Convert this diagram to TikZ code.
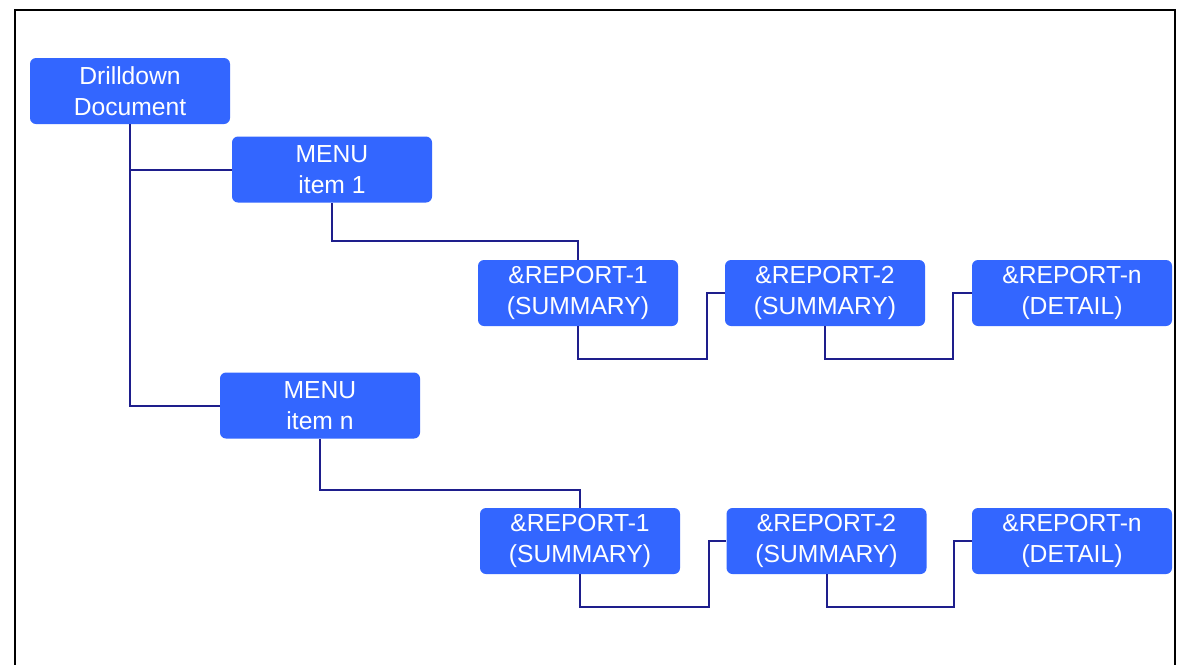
\documentclass[tikz,border=0pt]{standalone}
\usepackage{fontspec}
\setmainfont{Liberation Sans}
\definecolor{boxblue}{RGB}{51,102,255}
\definecolor{linenavy}{RGB}{30,30,140}
\begin{document}
\begin{tikzpicture}[x=0.75pt,y=-0.75pt,
  box/.style={fill=boxblue,text=white,rounded corners=4.5pt,minimum width=150pt,minimum height=49.5pt,inner sep=0pt,align=center,font=\fontsize{18.5pt}{23.25pt}\selectfont},
  conn/.style={draw=linenavy,line width=1.5pt}]
\useasboundingbox (0,0) rectangle (1178,664);
\fill[white] (0,0) rectangle (1178,664);
\draw[line width=2.2pt,black] (15,670) -- (15,10) -- (1175,10) -- (1175,670);

\node[box] (dd) at (130,91) {Drilldown\\Document};
\node[box] (m1) at (332,169.5) {MENU\\item 1};
\node[box] (mn) at (320,405.5) {MENU\\item n};
\node[box] (r1a) at (578,293) {\&REPORT-1\\(SUMMARY)};
\node[box] (r2a) at (825,293) {\&REPORT-2\\(SUMMARY)};
\node[box] (rna) at (1072,293) {\&REPORT-n\\(DETAIL)};
\node[box] (r1b) at (580,541) {\&REPORT-1\\(SUMMARY)};
\node[box] (r2b) at (826.5,541) {\&REPORT-2\\(SUMMARY)};
\node[box] (rnb) at (1072,541) {\&REPORT-n\\(DETAIL)};

\coordinate (e1) at (0,241);
\coordinate (e2) at (0,490);
\coordinate (k1) at (707,359);
\coordinate (k2) at (953,359);
\coordinate (k3) at (709,607);
\coordinate (k4) at (954,607);

\draw[conn] (dd.south) |- (m1.west);
\draw[conn] (dd.south) |- (mn.west);
\draw[conn] (m1.south) -- (m1.south |- e1) -| (r1a.north);
\draw[conn] (mn.south) -- (mn.south |- e2) -| (r1b.north);
\draw[conn] (r1a.south) |- (k1) |- (r2a.west);
\draw[conn] (r2a.south) |- (k2) |- (rna.west);
\draw[conn] (r1b.south) |- (k3) |- (r2b.west);
\draw[conn] (r2b.south) |- (k4) |- (rnb.west);
\end{tikzpicture}
\end{document}
